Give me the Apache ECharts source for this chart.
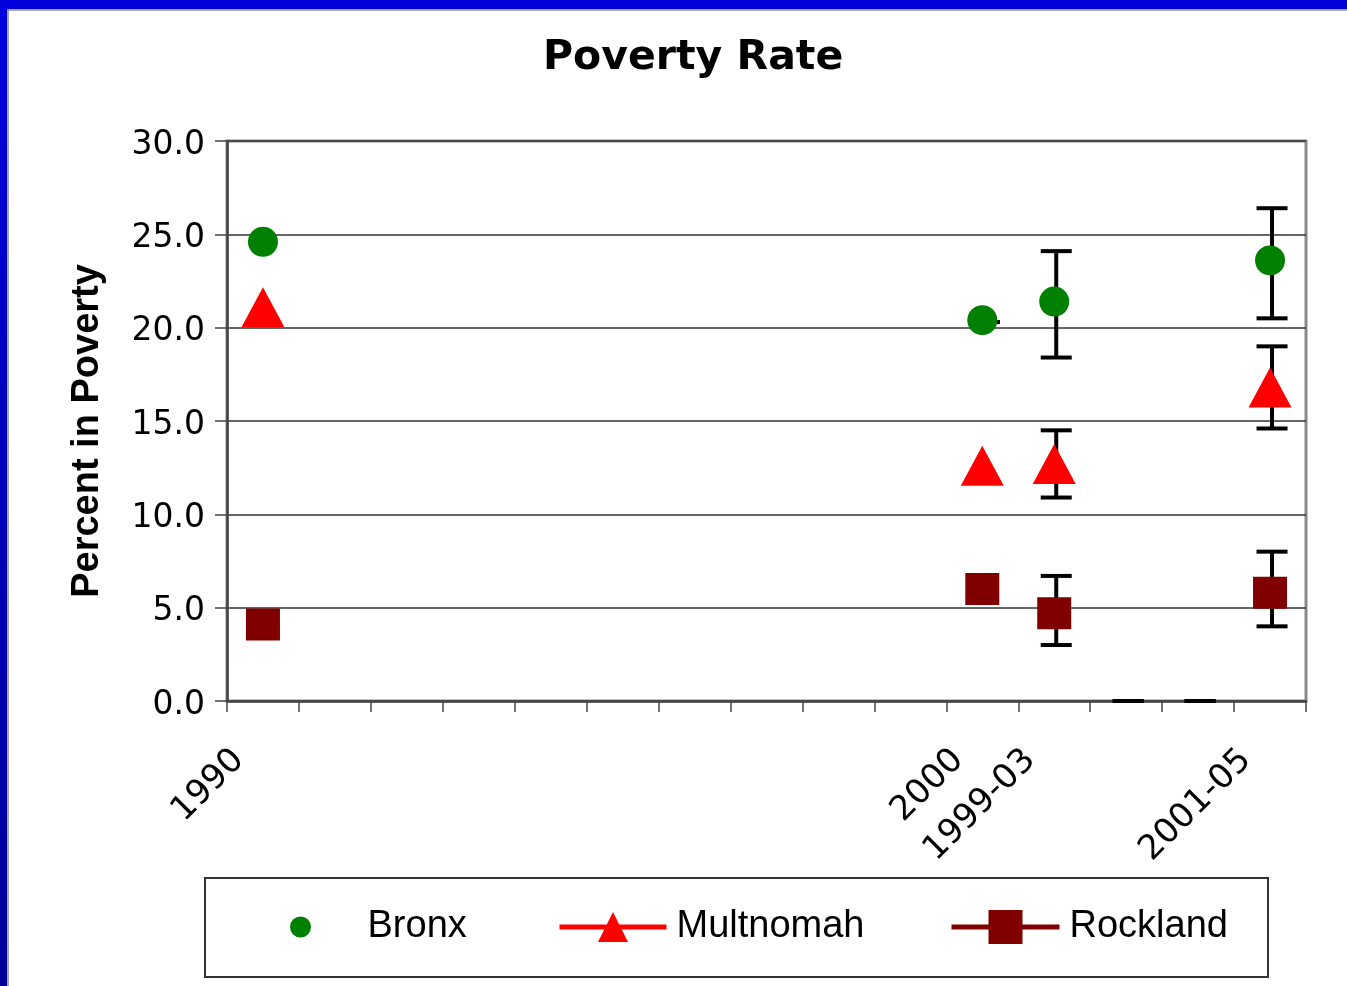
<!DOCTYPE html>
<html>
<head>
<meta charset="utf-8">
<script src="https://cdn.jsdelivr.net/npm/echarts@6/dist/echarts.min.js"></script>
<style>
html,body{margin:0;padding:0;background:#fff;}
#chart{width:1347px;height:986px;}
</style>
</head>
<body>
<div id="chart"></div>
<script>
// ---- data ----
const categories = ['1990','','','','','','','','','','2000','1999-03','','','2001-05'];
const yTicks = [0, 5, 10, 15, 20, 25, 30];

const bronx     = [24.6, null, null, null, null, null, null, null, null, null, 20.4, 21.4, null, null, 23.6];
const multnomah = [21.1, null, null, null, null, null, null, null, null, null, 12.6, 12.7, null, null, 16.8];
const rockland  = [4.1,  null, null, null, null, null, null, null, null, null, 6.0,  4.7,  null, null, 5.8];

const bronxLow      = [null, null, null, null, null, null, null, null, null, null, 20.3, 18.4, null, null, 20.5];
const bronxHigh     = [null, null, null, null, null, null, null, null, null, null, 20.3, 24.1, null, null, 26.4];
const multnomahLow  = [null, null, null, null, null, null, null, null, null, null, null, 10.9, null, null, 14.6];
const multnomahHigh = [null, null, null, null, null, null, null, null, null, null, null, 14.5, null, null, 19.0];
const rocklandLow   = [null, null, null, null, null, null, null, null, null, null, null, 3.0,  null, null, 4.0];
const rocklandHigh  = [null, null, null, null, null, null, null, null, null, null, null, 6.7,  null, null, 8.0];
const blankLow      = [null, null, null, null, null, null, null, null, null, null, null, null, 0, 0, null];
const blankHigh     = [null, null, null, null, null, null, null, null, null, null, null, null, 0, 0, null];

// ---- helpers ----
function errData(low, high) {
  const out = [];
  low.forEach((l, i) => { if (l !== null && high[i] !== null) out.push([i, l, high[i]]); });
  return out;
}
const allErr = [].concat(
  errData(bronxLow, bronxHigh),
  errData(multnomahLow, multnomahHigh),
  errData(rocklandLow, rocklandHigh),
  errData(blankLow, blankHigh)
);

const chart = echarts.init(document.getElementById('chart'), null, {renderer: 'canvas'});

const legendText = {fontFamily: 'Liberation Sans', fontSize: 38, color: '#000'};

const option = {
  animation: false,
  backgroundColor: '#ffffff',
  title: {
    text: 'Poverty Rate',
    left: 538,
    top: 33,
    textStyle: {fontFamily: 'DejaVu Sans', fontWeight: 'bold', fontSize: 41, color: '#000'}
  },
  grid: {
    left: 227, right: 41, top: 141, bottom: 285,
    show: true, borderColor: '#8a8a8a', borderWidth: 3, backgroundColor: '#fff'
  },
  xAxis: {
    type: 'category',
    data: categories,
    boundaryGap: true,
    axisLine: {show: true, lineStyle: {color: '#444', width: 2.5}},
    axisTick: {show: true, interval: 0, length: 11, lineStyle: {color: '#444', width: 1.5}},
    axisLabel: {
      interval: 0, rotate: 45, margin: 30,
      fontFamily: 'DejaVu Sans', fontSize: 34, color: '#000',
      padding: [0, 34, 0, 0]
    },
    splitLine: {show: false}
  },
  yAxis: {
    type: 'value',
    min: 0, max: 30, interval: 5,
    name: 'Percent in Poverty',
    nameLocation: 'middle',
    nameGap: 120,
    nameRotate: 90,
    nameTextStyle: {fontFamily: 'Liberation Sans', fontWeight: 'bold', fontSize: 38, color: '#000', padding: [0, 20, 0, 0]},
    axisLine: {show: true, lineStyle: {color: '#444', width: 2.5}},
    axisTick: {show: true, length: 12, lineStyle: {color: '#444', width: 1.5}},
    axisLabel: {
      margin: 22, fontFamily: 'DejaVu Sans', fontSize: 33, color: '#000',
      verticalAlign: 'top', lineHeight: 8,
      formatter: v => v.toFixed(1)
    },
    splitLine: {show: true, lineStyle: {color: '#333', width: 1.5}}
  },
  legend: [
    {
      data: ['Bronx'], left: 285, top: 903, itemWidth: 124, itemHeight: 21, itemGap: 0,
      textStyle: legendText
    },
    {
      data: [{name: 'Multnomah', lineStyle: {color: '#ff0000', width: 5, opacity: 1}}],
      left: 552, top: 903, itemWidth: 107, itemHeight: 37.5, itemGap: 0,
      textStyle: Object.assign({padding: [0, 0, 0, 5]}, legendText)
    },
    {
      data: [{name: 'Rockland', lineStyle: {color: '#800000', width: 5, opacity: 1}}],
      left: 944, top: 903, itemWidth: 108, itemHeight: 42.5, itemGap: 0,
      textStyle: Object.assign({padding: [0, 0, 0, 5]}, legendText)
    }
  ],
  graphic: [
    {type: 'rect', shape: {x: 0, y: 0, width: 1347, height: 9}, style: {fill: '#0000dd'}, z: 100},
    {type: 'rect', shape: {x: 0, y: 0, width: 7, height: 986},
      style: {fill: new echarts.graphic.LinearGradient(0, 0, 0, 1, [{offset: 0, color: '#0000dd'}, {offset: 1, color: '#000098'}])}, z: 100},
    {type: 'line', shape: {x1: 7, y1: 10, x2: 1347, y2: 10}, style: {stroke: '#888', lineWidth: 1.5}, z: 100},
    {type: 'line', shape: {x1: 8, y1: 9, x2: 8, y2: 986}, style: {stroke: '#888', lineWidth: 1.5}, z: 100},
    {type: 'rect', shape: {x: 205, y: 878, width: 1063, height: 99},
      style: {fill: 'none', stroke: '#333', lineWidth: 2}, z: -1}
  ],
  series: [
    {
      name: 'errorBars',
      type: 'custom',
      z: 1,
      silent: true,
      data: allErr,
      renderItem: function (params, api) {
        const idx = api.value(0);
        const lo = api.coord([idx, api.value(1)]);
        const hi = api.coord([idx, api.value(2)]);
        const half = 15.5, dx = 2;
        const st = {stroke: '#000', lineWidth: 4};
        return {
          type: 'group',
          children: [
            {type: 'line', shape: {x1: lo[0] + dx, y1: lo[1], x2: hi[0] + dx, y2: hi[1]}, style: st},
            {type: 'line', shape: {x1: lo[0] - half + dx, y1: lo[1], x2: lo[0] + half + dx, y2: lo[1]}, style: st},
            {type: 'line', shape: {x1: hi[0] - half + dx, y1: hi[1], x2: hi[0] + half + dx, y2: hi[1]}, style: st}
          ]
        };
      }
    },
    {
      name: 'Bronx', type: 'scatter', z: 3,
      data: bronx, symbol: 'circle', symbolSize: 30,
      itemStyle: {color: '#008000', opacity: 1}
    },
    {
      name: 'Multnomah', type: 'line', z: 3,
      data: multnomah, symbol: 'triangle', symbolSize: [43, 40], showSymbol: true,
      connectNulls: false,
      lineStyle: {width: 0, opacity: 0},
      itemStyle: {color: '#ff0000', opacity: 1}
    },
    {
      name: 'Rockland', type: 'line', z: 3,
      data: rockland, symbol: 'rect', symbolSize: [34, 32], showSymbol: true,
      connectNulls: false,
      lineStyle: {width: 0, opacity: 0},
      itemStyle: {color: '#800000', opacity: 1}
    }
  ]
};
chart.setOption(option);
</script>
</body>
</html>
